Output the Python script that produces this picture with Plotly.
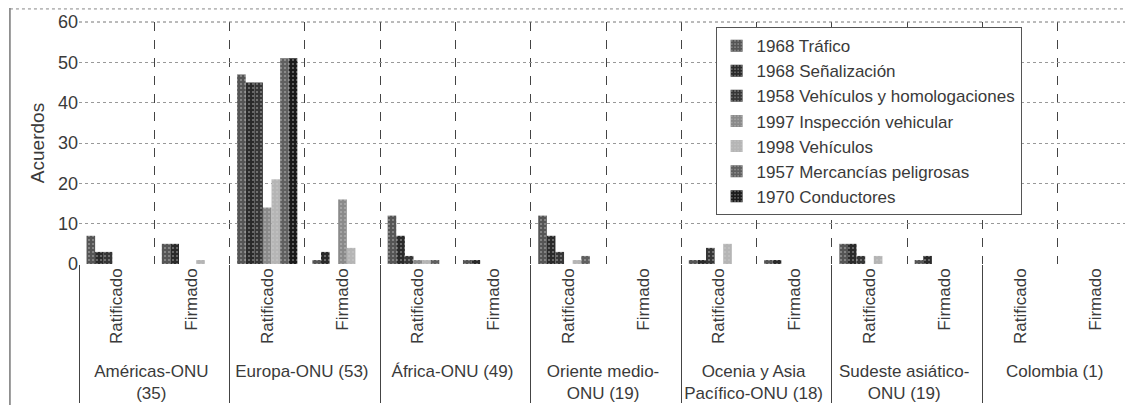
import plotly.graph_objects as go

regions = ["Américas-ONU<br>(35)", "Europa-ONU (53)", "África-ONU (49)",
           "Oriente medio-<br>ONU (19)", "Ocenia y Asia<br>Pacífico-ONU (18)",
           "Sudeste asiático-<br>ONU (19)", "Colombia (1)"]
statuses = ["Ratificado", "Firmado"]

series_names = ["1968 Tráfico", "1968 Señalización", "1958 Vehículos y homologaciones",
                "1997 Inspección vehicular", "1998 Vehículos",
                "1957 Mercancías peligrosas", "1970 Conductores"]

# values per region: [Ratificado, Firmado]
trafico       = [7, 5, 47, 1, 12, 1, 12, 0, 1, 1, 5, 1, 0, 0]
senalizacion  = [3, 5, 45, 3, 7, 1, 7, 0, 1, 1, 5, 2, 0, 0]
homologacion  = [3, 0, 45, 0, 2, 0, 3, 0, 4, 0, 2, 0, 0, 0]
inspeccion    = [0, 0, 14, 16, 1, 0, 0, 0, 0, 0, 0, 0, 0, 0]
vehiculos98   = [0, 1, 21, 4, 1, 0, 1, 0, 5, 0, 2, 0, 0, 0]
mercancias    = [0, 0, 51, 0, 1, 0, 2, 0, 0, 0, 0, 0, 0, 0]
conductores   = [0, 0, 51, 0, 0, 0, 0, 0, 0, 0, 0, 0, 0, 0]

all_values = [trafico, senalizacion, homologacion, inspeccion, vehiculos98, mercancias, conductores]
colors = ["#555555", "#2a2a2a", "#363636", "#8a8a8a", "#b5b5b5", "#606060", "#1a1a1a"]

x_outer = [r for r in regions for _ in statuses]
x_inner = [s for _ in regions for s in statuses]

fig = go.Figure()
for name, vals, col in zip(series_names, all_values, colors):
    fig.add_trace(go.Bar(
        x=[x_outer, x_inner], y=vals, name=name,
        marker=dict(color=col, line=dict(width=0),
                    pattern=dict(shape=".", fgcolor="#cfcfcf", size=4, solidity=0.2)),
    ))

font_fam = "Liberation Sans, Arial, sans-serif"
txt = "#3a3a3a"
# page body has an 8px default margin: figure is sized/offset to compensate
fig.update_layout(
    width=1125, height=397,
    margin=dict(l=71, r=0, t=14, b=141),
    paper_bgcolor="white", plot_bgcolor="white",
    barmode="group", bargap=0.2, bargroupgap=0,
    font=dict(family=font_fam, color=txt, size=18),
    showlegend=True,
    legend=dict(x=0.604, y=0.979, xanchor="left", yanchor="top",
                bgcolor="white", bordercolor="#555", borderwidth=1,
                font=dict(size=17, color=txt), traceorder="normal",
                itemwidth=30, tracegroupgap=0),
    xaxis=dict(type="multicategory", tickangle=-90, showgrid=True,
               gridcolor="#444", griddash="dash", gridwidth=1,
               showdividers=True, dividercolor="#444", dividerwidth=1,
               tickfont=dict(size=17, color=txt), ticks="",
               showline=False, zeroline=False, automargin=False),
    yaxis=dict(range=[0, 60], dtick=10, showgrid=True, gridcolor="#999",
               griddash="dot", gridwidth=1, zeroline=False, ticks="",
               tickfont=dict(size=18, color=txt), automargin=False,
               title=dict(text="Acuerdos", font=dict(size=19, color=txt), standoff=8),
               showline=False),
)

# chart outer frame line on the left and dotted top border
fig.add_shape(type="line", xref="paper", yref="paper", x0=-0.0655, x1=-0.0655, y0=-0.6, y1=1.06,
              line=dict(color="#333", width=1))
fig.add_shape(type="line", xref="paper", yref="paper", x0=-0.0655, x1=1, y0=1.054, y1=1.054,
              line=dict(color="#888", width=1, dash="dot"))
fig.add_shape(type="line", xref="paper", yref="paper", x0=0, x1=1, y0=1.0, y1=1.0,
              line=dict(color="#777", width=1, dash="dot"))
fig.add_shape(type="line", xref="paper", yref="paper", x0=1, x1=1, y0=0, y1=1,
              line=dict(color="#444", width=1, dash="dash"))

fig.write_html("out.html")
